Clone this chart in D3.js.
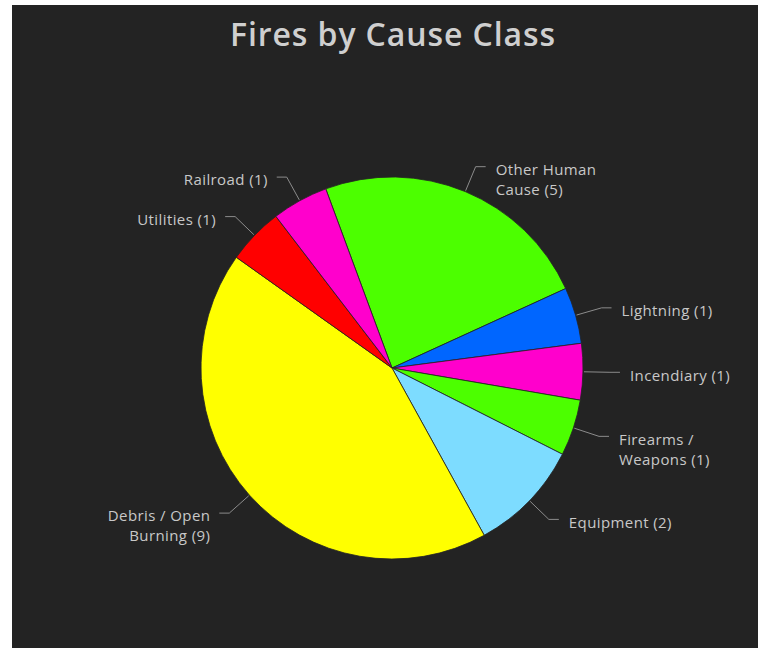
<!DOCTYPE html>
<html>
<head>
<meta charset="utf-8">
<script src="https://cdn.jsdelivr.net/npm/d3@7"></script>
<style>
  html, body { margin: 0; padding: 0; background: #ffffff; }
  svg { display: block; }
</style>
</head>
<body>
<svg id="chart" width="758" height="648"></svg>
<script>
// ---- data ----
const title = "Fires by Cause Class";
const categories = ["Other Human Cause", "Lightning", "Incendiary", "Firearms / Weapons", "Equipment", "Debris / Open Burning", "Utilities", "Railroad"];
const values = [5, 1, 1, 1, 2, 9, 1, 1];
const labelLines = [["Other Human", "Cause (5)"], ["Lightning (1)"], ["Incendiary (1)"], ["Firearms /", "Weapons (1)"], ["Equipment (2)"], ["Debris / Open", "Burning (9)"], ["Utilities (1)"], ["Railroad (1)"]];
const colors = ["#4cff00", "#0066ff", "#ff00cc", "#4cff00", "#7ddcff", "#ffff00", "#ff0000", "#ff00cc"];

const W = 758, H = 648;
const svg = d3.select("#chart");

// dark panel
svg.append("rect").attr("x", 12).attr("y", 5).attr("width", W - 12).attr("height", H - 5).attr("fill", "#232323");

svg.append("text")
  .attr("x", 393).attr("y", 46)
  .attr("text-anchor", "middle")
  .attr("font-family", "'Open Sans', Lato, sans-serif")
  .attr("font-weight", 600)
  .attr("font-size", 32)
  .attr("letter-spacing", 0.9)
  .attr("fill", "#cfcfcf")
  .text(title);

const cx = 392, cy = 368, r = 191;
const startDeg = -20.3;
const pie = d3.pie().sort(null)
  .startAngle(startDeg * Math.PI / 180)
  .endAngle((startDeg + 360) * Math.PI / 180);
const arcs = pie(values);
const arc = d3.arc().innerRadius(0).outerRadius(r);

const g = svg.append("g").attr("transform", `translate(${cx},${cy})`);
g.selectAll("path.slice").data(arcs).join("path")
  .attr("class", "slice")
  .attr("d", arc)
  .attr("fill", (d, i) => colors[i])
  .attr("stroke", "#232323")
  .attr("stroke-width", 0.8);

// labels
const elbowR = r + 27;
const lbl = g.selectAll("g.lbl").data(arcs).join("g").attr("class", "lbl");
lbl.each(function(d, i) {
  const a = (d.startAngle + d.endAngle) / 2;
  const sx = Math.sin(a), sy = -Math.cos(a);
  const p0 = [sx * (r + 1), sy * (r + 1)];
  const p1 = [sx * elbowR, sy * elbowR];
  const right = sx >= 0;
  const p2 = [p1[0] + (right ? 10 : -10), p1[1]];
  const sel = d3.select(this);
  sel.append("polyline")
    .attr("points", [p0, p1, p2].map(p => p.join(",")).join(" "))
    .attr("fill", "none")
    .attr("stroke", "#8c8c8c")
    .attr("stroke-width", 1);
  const t = sel.append("text")
    .attr("x", p2[0] + (right ? 10 : -9))
    .attr("y", p1[1] + 3)
    .attr("text-anchor", right ? "start" : "end")
    .attr("font-family", "'Open Sans', Lato, sans-serif")
    .attr("font-size", 15)
    .attr("letter-spacing", 0.4)
    .attr("fill", "#c8c8c8");
  labelLines[i].forEach((line, k) => {
    t.append("tspan")
      .attr("x", p2[0] + (right ? 10 : -9))
      .attr("dy", k === 0 ? "0.35em" : "1.33em")
      .text(line);
  });
});
</script>
</body>
</html>
